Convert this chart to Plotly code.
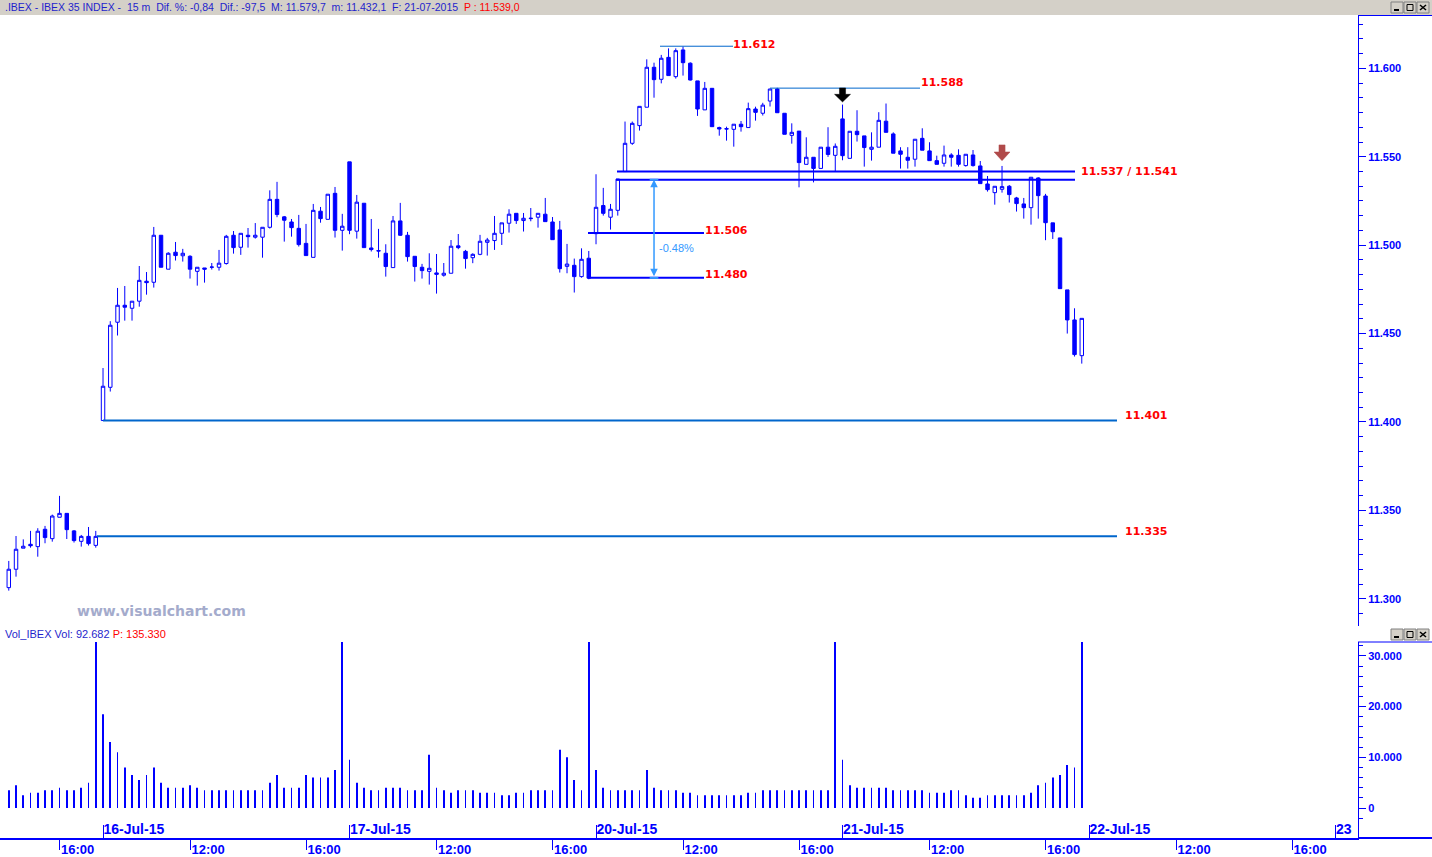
import plotly.graph_objects as go

# ---------------- data ----------------
days = ["15-Jul-15", "16-Jul-15", "17-Jul-15", "20-Jul-15", "21-Jul-15"]
BARS_PER_DAY = 34            # 15-minute bars 09:00 .. 17:15
FIRST_BAR_DAY0 = 21          # first visible bar on 15-Jul is 14:15

opens = [
    # 15-Jul
    11306.3, 11316.7, 11328.6, 11330.8, 11329.5, 11339.3, 11334.0, 11346.1, 11348.3, 11338.4, 11332.5, 11335.3, 11330.2,
    # 16-Jul
    11400.8, 11419.6, 11456.4, 11466.0, 11464.3, 11468.3, 11479.6, 11479.0, 11505.6, 11486.4, 11496.0, 11494.0, 11493.7,
    11485.2, 11487.1, 11487.5, 11487.5, 11489.6, 11505.6, 11498.8, 11505.6, 11504.5, 11504.5, 11510.1, 11525.9, 11516.0,
    11513.1, 11509.5, 11501.0, 11493.1, 11519.2, 11514.6, 11529.3, 11508.4,
    # 17-Jul
    11547.1, 11507.9, 11523.7, 11498.4, 11496.9, 11495.4, 11487.3, 11513.7, 11505.6, 11493.7, 11487.5, 11485.2, 11484.3,
    11483.0, 11484.1, 11499.6, 11496.5, 11492.9, 11494.8, 11501.6, 11502.6, 11506.7, 11512.4, 11518.0, 11513.9, 11515.0,
    11515.8, 11517.5, 11513.1, 11508.6, 11488.0, 11488.6, 11482.2, 11492.6,
    # 20-Jul
    11506.5, 11522.4, 11515.8, 11519.7, 11541.6, 11557.6, 11567.6, 11578.0, 11600.6, 11593.8, 11606.2, 11595.3, 11610.4,
    11602.9, 11592.9, 11576.5, 11588.7, 11566.5, 11565.9, 11565.5, 11568.4, 11566.5, 11577.0, 11574.6, 11581.5, 11588.3,
    11574.6, 11562.1, 11564.5, 11545.7, 11549.7, 11543.4, 11555.4, 11550.8,
    # 21-Jul
    11571.4, 11549.1, 11564.4, 11561.8, 11554.2, 11555.4, 11570.1, 11562.9, 11553.3, 11549.7, 11548.6, 11560.4, 11553.3,
    11547.8, 11546.3, 11551.0, 11550.8, 11545.0, 11551.0, 11544.8, 11534.6, 11529.7, 11531.6, 11533.3, 11526.7, 11523.3,
    11521.2, 11538.0, 11527.8, 11512.6, 11504.1, 11474.7, 11457.7, 11437.5,
]
highs = [
    11321.4, 11335.5, 11333.6, 11338.4, 11339.9, 11341.2, 11347.6, 11358.2, 11348.3, 11338.9, 11336.1, 11340.6, 11338.4,
    11430.5, 11457.0, 11475.8, 11476.9, 11468.3, 11488.2, 11484.8, 11510.3, 11505.6, 11496.0, 11501.8, 11497.9, 11494.3,
    11487.5, 11487.1, 11489.9, 11497.3, 11505.8, 11508.0, 11506.7, 11509.7, 11512.5, 11510.1, 11531.0, 11535.8, 11516.5,
    11514.8, 11517.1, 11512.0, 11523.3, 11521.6, 11528.8, 11532.9, 11517.7,
    11547.1, 11528.4, 11523.7, 11514.8, 11509.2, 11500.5, 11516.5, 11523.9, 11507.5, 11493.7, 11489.4, 11495.4, 11495.0,
    11489.9, 11502.9, 11506.3, 11497.3, 11495.4, 11505.8, 11504.1, 11516.5, 11512.6, 11520.3, 11518.0, 11518.2, 11521.0,
    11518.0, 11526.7, 11515.9, 11513.7, 11500.7, 11492.4, 11498.2, 11496.7,
    11540.1, 11532.4, 11523.3, 11537.4, 11569.9, 11569.9, 11578.5, 11605.1, 11603.2, 11607.6, 11611.3, 11611.3, 11612.3,
    11603.4, 11592.9, 11592.3, 11588.7, 11567.0, 11567.0, 11568.4, 11570.2, 11580.6, 11578.3, 11580.5, 11588.4, 11589.0,
    11574.6, 11568.9, 11564.5, 11561.0, 11549.7, 11555.4, 11566.7, 11557.5,
    11579.5, 11564.4, 11576.3, 11561.8, 11563.8, 11575.2, 11580.1, 11563.8, 11555.4, 11555.4, 11559.9, 11566.1, 11558.2,
    11550.6, 11556.3, 11552.0, 11554.2, 11551.4, 11553.8, 11547.6, 11539.1, 11533.3, 11544.8, 11534.0, 11527.3, 11526.7,
    11538.4, 11538.4, 11529.0, 11512.6, 11504.1, 11474.7, 11464.3, 11458.6,
]
lows = [
    11304.6, 11312.5, 11328.6, 11328.9, 11323.8, 11331.4, 11332.3, 11346.1, 11333.8, 11331.8, 11329.5, 11330.1, 11328.9,
    11400.8, 11417.2, 11448.9, 11457.3, 11457.3, 11465.2, 11472.0, 11476.0, 11487.5, 11486.4, 11491.3, 11490.7, 11481.1,
    11477.1, 11478.8, 11486.2, 11485.6, 11489.0, 11495.2, 11494.5, 11498.6, 11503.7, 11492.9, 11509.4, 11515.8, 11502.0,
    11504.8, 11499.2, 11494.1, 11493.1, 11512.7, 11514.6, 11504.3, 11496.9,
    11506.2, 11503.7, 11498.6, 11496.4, 11492.9, 11482.2, 11487.3, 11505.2, 11490.7, 11479.4, 11481.1, 11477.7, 11472.6,
    11482.2, 11484.1, 11497.7, 11486.7, 11489.8, 11494.3, 11494.1, 11497.3, 11500.1, 11507.1, 11512.0, 11507.7, 11513.5,
    11509.9, 11513.3, 11503.1, 11484.5, 11484.1, 11473.2, 11481.6, 11480.7,
    11500.5, 11516.7, 11508.8, 11516.7, 11541.6, 11556.7, 11564.8, 11578.0, 11583.4, 11591.5, 11595.9, 11594.2, 11595.9,
    11593.1, 11573.1, 11576.5, 11567.0, 11561.9, 11559.1, 11555.7, 11564.2, 11566.5, 11570.4, 11573.3, 11578.4, 11574.9,
    11562.7, 11557.4, 11532.7, 11545.7, 11535.5, 11543.4, 11549.9, 11541.5,
    11548.0, 11549.1, 11558.6, 11544.4, 11547.8, 11555.4, 11563.8, 11552.0, 11543.3, 11543.3, 11544.4, 11553.7, 11547.8,
    11545.7, 11544.4, 11544.4, 11544.4, 11544.4, 11544.4, 11534.8, 11530.3, 11522.9, 11529.7, 11524.1, 11519.0, 11515.0,
    11511.6, 11515.0, 11502.8, 11503.5, 11475.4, 11450.0, 11437.0, 11433.0,
]
closes = [
    11316.7, 11328.0, 11329.7, 11330.0, 11338.2, 11334.6, 11346.8, 11348.3, 11339.1, 11332.9, 11335.3, 11331.2, 11335.3,
    11420.2, 11454.7, 11466.0, 11464.9, 11468.3, 11480.1, 11478.8, 11505.6, 11487.5, 11495.4, 11494.1, 11495.4, 11486.4,
    11487.5, 11486.4, 11487.6, 11489.8, 11505.0, 11498.6, 11506.7, 11504.8, 11505.6, 11510.1, 11525.9, 11517.3, 11514.1,
    11509.9, 11500.3, 11494.1, 11519.7, 11515.0, 11528.8, 11508.4, 11510.7,
    11508.4, 11524.3, 11498.6, 11497.5, 11496.7, 11487.9, 11513.7, 11505.6, 11493.5, 11487.9, 11485.6, 11486.9, 11483.5,
    11484.1, 11499.4, 11498.6, 11492.4, 11494.8, 11502.2, 11502.9, 11506.7, 11512.6, 11517.5, 11513.9, 11515.2, 11515.2,
    11518.0, 11513.3, 11503.1, 11486.7, 11489.3, 11482.2, 11492.0, 11481.3,
    11521.4, 11518.0, 11520.3, 11537.4, 11557.6, 11568.9, 11578.5, 11600.6, 11593.6, 11605.7, 11595.9, 11610.0, 11603.2,
    11593.4, 11577.0, 11588.7, 11567.0, 11565.7, 11565.7, 11568.4, 11567.0, 11577.2, 11575.1, 11579.2, 11588.3, 11574.9,
    11562.7, 11563.8, 11546.7, 11549.7, 11543.4, 11555.4, 11551.3, 11555.9,
    11550.6, 11564.4, 11562.5, 11555.2, 11555.4, 11570.6, 11563.8, 11552.0, 11551.4, 11548.0, 11559.9, 11553.7, 11547.8,
    11545.7, 11551.0, 11549.7, 11545.7, 11551.4, 11545.0, 11534.8, 11531.4, 11533.3, 11533.1, 11528.6, 11523.5, 11521.2,
    11538.4, 11528.0, 11512.7, 11507.6, 11475.4, 11457.7, 11438.1, 11458.6,
]
volumes = [
    # 15-Jul
    3500, 4500, 2500, 3000, 3000, 3500, 3500, 4000, 3500, 3500, 4000, 5000, 90000,
    # 16-Jul
    18500, 13000, 11000, 8000, 6500, 5500, 6500, 8000, 5000, 4000, 4000, 4000, 4500, 4000, 3500, 3500, 3500,
    3500, 3500, 3500, 3500, 3500, 3500, 5000, 6500, 4000, 4000, 4000, 6500, 6000, 6000, 6000, 7500, 90000,
    # 17-Jul
    9500, 5000, 4000, 3500, 3500, 4000, 4000, 4000, 3500, 3500, 3500, 10500, 4000, 3500, 3000, 3500, 3500,
    3500, 3000, 3000, 3000, 2500, 2500, 3000, 3000, 3500, 3500, 3500, 3500, 11500, 10000, 5500, 3500, 90000,
    # 20-Jul
    7500, 4000, 3500, 3500, 3500, 3500, 3500, 7500, 4000, 3500, 3500, 3500, 3000, 3000, 2500, 2500, 2500,
    2500, 2500, 2500, 2500, 3000, 3000, 3500, 3500, 3500, 3500, 3500, 3500, 3500, 3500, 3500, 3500, 90000,
    # 21-Jul
    9500, 4500, 4000, 4000, 4000, 4000, 4000, 3500, 3500, 3500, 3500, 3500, 3000, 3000, 3000, 3500, 3500,
    2500, 2000, 2000, 2500, 2500, 2500, 2500, 2500, 2500, 3000, 4500, 5000, 6000, 6500, 8500, 8000, 92682,
]

price_ticks = [11300, 11350, 11400, 11450, 11500, 11550, 11600]
price_tick_text = ["11.300", "11.350", "11.400", "11.450", "11.500", "11.550", "11.600"]
vol_ticks = [0, 10000, 20000, 30000]
vol_tick_text = ["0", "10.000", "20.000", "30.000"]
axis_days = ["16-Jul-15", "17-Jul-15", "20-Jul-15", "21-Jul-15", "22-Jul-15", "23"]
axis_times = ["12:00", "16:00"]

# hand-drawn horizontal levels: (price where the line is drawn, label)
levels_main = [(11612.5, "11.612"), (11588.8, "11.588")]
level_band = (11537.0, 11541.6)
band_label = "11.537 / 11.541"
levels_swing = [(11506.9, "11.506"), (11481.5, "11.480")]
levels_support = [(11400.8, "11.401"), (11335.3, "11.335")]
move_label = "-0.48%"

# ---------------- slot positions on the time axis ----------------
def slot(day_index, k):
    return day_index * BARS_PER_DAY + k

def time_to_k(hhmm):
    h, m = map(int, hhmm.split(":"))
    return ((h - 9) * 60 + m) // 15

x = [slot(0, k) for k in range(FIRST_BAR_DAY0, BARS_PER_DAY)]
for d in range(1, len(days)):
    x += [slot(d, k) for k in range(BARS_PER_DAY)]

day_tick_vals = [slot(d, 0) for d in range(1, 1 + len(axis_days))]
time_tick_vals = [slot(0, time_to_k("16:00"))]
time_tick_text = ["16:00"]
for d in range(1, 7):
    for t in axis_times:
        time_tick_vals.append(slot(d, time_to_k(t)))
        time_tick_text.append(t)

# ---------------- layout geometry ----------------
W, H = 1432, 857
PL, PR, PT, PB = 0, 1358, 16, 838          # plot area in pixels

def pxx(p):
    return (p - PL) / (PR - PL)

def pxy(p):
    return (PB - p) / (PB - PT)

BLUE = "#0000ff"
LBLUE = "#0066cc"
RED = "#ff0000"
X_RANGE = [19.79, 207.1]

fig = go.Figure()

fig.add_trace(go.Candlestick(
    x=x, open=opens, high=highs, low=lows, close=closes,
    increasing=dict(line=dict(color=BLUE, width=1), fillcolor="white"),
    decreasing=dict(line=dict(color=BLUE, width=1), fillcolor=BLUE),
    xaxis="x", yaxis="y", showlegend=False, hoverinfo="skip",
))
fig.add_trace(go.Bar(
    x=x, y=volumes, width=0.12, marker=dict(color=BLUE, line=dict(width=0)),
    xaxis="x2", yaxis="y2", showlegend=False, hoverinfo="skip",
))
fig.add_trace(go.Scatter(x=[X_RANGE[0]], y=[0], mode="markers", marker=dict(opacity=0),
                         xaxis="x3", yaxis="y2", showlegend=False, hoverinfo="skip"))

date_font = dict(family="Liberation Sans", size=14, color=BLUE, weight="bold")
time_font = dict(family="Liberation Sans", size=13, color=BLUE, weight="bold")
ylab_font = dict(family="Liberation Sans", size=11, color=BLUE, weight="bold")

fig.update_layout(
    width=W, height=H,
    margin=dict(l=PL, r=W - PR, t=PT, b=H - PB, autoexpand=False),
    paper_bgcolor="white", plot_bgcolor="white",
    boxgap=0.32,
    xaxis=dict(domain=[0, 1], range=X_RANGE, anchor="y", showticklabels=False, ticks="", automargin=False,
               showgrid=False, zeroline=False, showline=False, rangeslider=dict(visible=False)),
    yaxis=dict(domain=[pxy(626), 1], range=[11284.6, 11629.6], side="right", anchor="x", automargin=False,
               tickvals=price_ticks, ticktext=price_tick_text, tickfont=ylab_font,
               ticks="outside", ticklen=7, tickwidth=1, tickcolor=BLUE,
               minor=dict(ticks="outside", ticklen=4, tick0=11300, dtick=50 / 6, tickcolor=BLUE, showgrid=False),
               showline=True, linecolor=BLUE, linewidth=1, showgrid=False, zeroline=False),
    xaxis2=dict(domain=[0, 1], range=X_RANGE, anchor="y2", matches="x", automargin=False,
                tickvals=time_tick_vals, ticktext=time_tick_text, tickfont=time_font,
                ticks="outside", ticklen=10, tickwidth=1, tickcolor=BLUE, ticklabelposition="outside right",
                ticklabelstandoff=-2,
                showline=True, linecolor=BLUE, linewidth=2, showgrid=False, zeroline=False),
    xaxis3=dict(range=X_RANGE, anchor="y2", overlaying="x2", side="bottom", matches="x", automargin=False,
                tickvals=day_tick_vals, ticktext=axis_days, tickfont=date_font,
                ticks="inside", ticklen=13, tickwidth=1, tickcolor=BLUE, ticklabelposition="inside right",
                ticklabelstandoff=-5,
                showline=False, showgrid=False, zeroline=False),
    yaxis2=dict(domain=[0, pxy(642)], range=[-5917, 32742], side="right", anchor="x2", automargin=False,
                tickvals=vol_ticks, ticktext=vol_tick_text, tickfont=ylab_font,
                ticks="outside", ticklen=7, tickwidth=1, tickcolor=BLUE,
                minor=dict(ticks="outside", ticklen=4, tick0=0, dtick=2000, tickcolor=BLUE, showgrid=False),
                showline=True, linecolor=BLUE, linewidth=1, showgrid=False, zeroline=False),
    showlegend=False,
)

shapes = []
annotations = []

def to_slot(pix):
    """pixel column -> slot on the time axis (for hand-drawn objects)"""
    return X_RANGE[0] + pix / (PR - PL) * (X_RANGE[1] - X_RANGE[0])

def hline(y, x0, x1, color, width):
    shapes.append(dict(type="line", xref="x", yref="y", x0=x0, x1=x1, y0=y, y1=y,
                       line=dict(color=color, width=width)))

def level_label(y, xs, text, dy=1.0):
    annotations.append(dict(x=xs, y=y + dy, xref="x", yref="y", text=text, showarrow=False,
                            xanchor="left", yanchor="middle",
                            font=dict(family="DejaVu Sans", size=11, color=RED, weight="bold")))

# top levels (thin)
hline(levels_main[0][0], to_slot(660), to_slot(733), LBLUE, 1)
level_label(levels_main[0][0], to_slot(731), levels_main[0][1], dy=1.2)
hline(levels_main[1][0], to_slot(770), to_slot(920), LBLUE, 1)
level_label(levels_main[1][0], to_slot(919), levels_main[1][1], dy=3.0)
# resistance band
hline(level_band[1], to_slot(617), to_slot(1075), BLUE, 2)
hline(level_band[0], to_slot(616), to_slot(1075), BLUE, 2)
level_label(level_band[1], to_slot(1079), band_label, dy=0.0)
# swing levels
hline(levels_swing[0][0], to_slot(588), to_slot(704), BLUE, 2)
level_label(levels_swing[0][0], to_slot(703), levels_swing[0][1], dy=1.2)
hline(levels_swing[1][0], to_slot(588), to_slot(704), BLUE, 2)
level_label(levels_swing[1][0], to_slot(703), levels_swing[1][1], dy=2.0)
# supports
hline(levels_support[0][0], slot(1, 0), to_slot(1117), LBLUE, 2)
level_label(levels_support[0][0], to_slot(1123), levels_support[0][1], dy=2.8)
hline(levels_support[1][0], to_slot(97), to_slot(1117), LBLUE, 2)
level_label(levels_support[1][0], to_slot(1123), levels_support[1][1], dy=2.5)

# percentage measurement arrow
mx = slot(3, 8)
MCOL = "#3399ff"
annotations.append(dict(x=mx, y=level_band[0], ax=mx, ay=levels_swing[1][0], xref="x", yref="y",
                        axref="x", ayref="y", text="", showarrow=True, arrowhead=2, arrowside="end+start",
                        arrowsize=1, arrowwidth=1.5, arrowcolor=MCOL))
for lv in (level_band[0], levels_swing[1][0]):
    shapes.append(dict(type="line", xref="x", yref="y", x0=mx - 0.6, x1=mx + 0.6, y0=lv, y1=lv,
                       line=dict(color=MCOL, width=2)))
annotations.append(dict(x=mx + 0.45, y=11498.5, xref="x", yref="y", text=move_label, showarrow=False,
                        xanchor="left", yanchor="middle", font=dict(family="Liberation Sans", size=11, color=MCOL)))

# arrows
def down_arrow(xc, ytop, yneck, ytip, color):
    sw, hw = 0.42, 1.1
    path = (f"M {xc - sw},{ytop} L {xc + sw},{ytop} L {xc + sw},{yneck} L {xc + hw},{yneck} "
            f"L {xc},{ytip} L {xc - hw},{yneck} L {xc - sw},{yneck} Z")
    shapes.append(dict(type="path", xref="x", yref="y", path=path, fillcolor=color,
                       line=dict(color=color, width=0.5)))

down_arrow(slot(4, 0), 11588.9, 11585.3, 11581.0, "black")
down_arrow(slot(4, 22), 11556.7, 11552.7, 11547.8, "#b04a4a")

# title bar
shapes.append(dict(type="rect", xref="paper", yref="paper", x0=pxx(0), x1=pxx(W), y0=pxy(15), y1=pxy(0),
                   fillcolor="#d4d0c8", line=dict(width=0), layer="above"))
annotations.append(dict(x=pxx(3), y=pxy(7.5), xref="paper", yref="paper", xanchor="left", yanchor="middle",
                        showarrow=False,
                        text=".IBEX - IBEX 35 INDEX -  15 m  Dif. %: -0,84  Dif.: -97,5  M: 11.579,7  m: 11.432,1  F: 21-07-2015  "
                             "<span style='color:#ff0000'>P : 11.539,0</span>",
                        font=dict(family="Liberation Sans", size=10.5, color="#1f1fcc")))
# axis-area borders
for yy in (15.5, 642):
    shapes.append(dict(type="line", xref="paper", yref="paper", x0=pxx(PR), x1=pxx(W), y0=pxy(yy), y1=pxy(yy),
                       line=dict(color=BLUE, width=1)))
shapes.append(dict(type="line", xref="paper", yref="paper", x0=pxx(PR), x1=pxx(W), y0=0, y1=0,
                   line=dict(color=BLUE, width=2)))

# window buttons
def buttons(ytop):
    for i, glyph in enumerate(["min", "max", "close"]):
        x0 = 1391 + i * 13
        shapes.append(dict(type="rect", xref="paper", yref="paper", x0=pxx(x0), x1=pxx(x0 + 12),
                           y0=pxy(ytop + 11), y1=pxy(ytop), fillcolor="#d4d0c8",
                           line=dict(color="#808080", width=1), layer="above"))
        if glyph == "min":
            shapes.append(dict(type="line", xref="paper", yref="paper", x0=pxx(x0 + 3), x1=pxx(x0 + 8),
                               y0=pxy(ytop + 8), y1=pxy(ytop + 8), line=dict(color="black", width=2), layer="above"))
        elif glyph == "max":
            shapes.append(dict(type="rect", xref="paper", yref="paper", x0=pxx(x0 + 3), x1=pxx(x0 + 9),
                               y0=pxy(ytop + 8.5), y1=pxy(ytop + 2.5), line=dict(color="black", width=1), layer="above"))
        else:
            shapes.append(dict(type="line", xref="paper", yref="paper", x0=pxx(x0 + 3), x1=pxx(x0 + 9),
                               y0=pxy(ytop + 3), y1=pxy(ytop + 8), line=dict(color="black", width=1.5), layer="above"))
            shapes.append(dict(type="line", xref="paper", yref="paper", x0=pxx(x0 + 3), x1=pxx(x0 + 9),
                               y0=pxy(ytop + 8), y1=pxy(ytop + 3), line=dict(color="black", width=1.5), layer="above"))

buttons(2)
buttons(629)

# volume header
annotations.append(dict(x=pxx(3), y=pxy(634), xref="paper", yref="paper", xanchor="left", yanchor="middle",
                        showarrow=False,
                        text="Vol_IBEX Vol: 92.682 <span style='color:#ff0000'>P: 135.330</span>",
                        font=dict(family="Liberation Sans", size=11, color="#1f1fcc")))
# watermark
annotations.append(dict(x=pxx(75), y=pxy(611), xref="paper", yref="paper", xanchor="left", yanchor="middle",
                        showarrow=False, text="www.visualchart.com",
                        font=dict(family="DejaVu Sans", size=14, color="#a4abcc", weight="bold")))

fig.update_layout(shapes=shapes, annotations=annotations)
fig.write_html("out.html", config={"displayModeBar": False},
               post_script="document.body.style.margin='0';document.body.style.overflow='hidden';")
